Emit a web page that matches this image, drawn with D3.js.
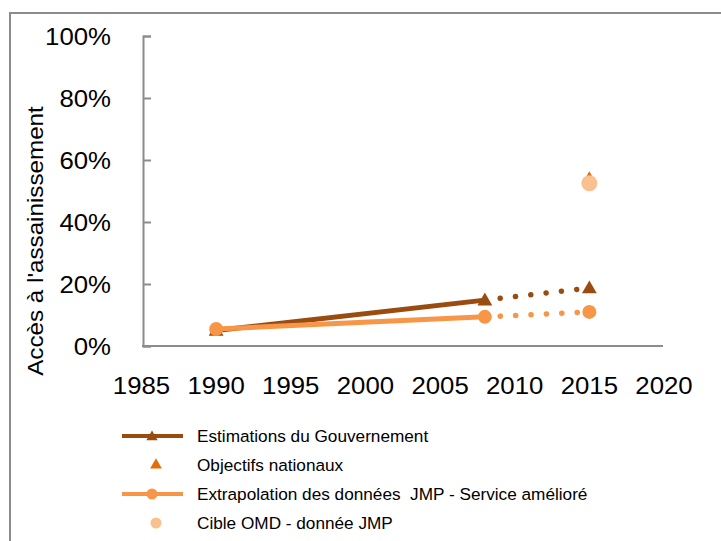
<!DOCTYPE html>
<html><head><meta charset="utf-8">
<script src="https://cdn.jsdelivr.net/npm/d3@7"></script>
<style>body{margin:0;background:#fff}svg{display:block}text{font-family:"Liberation Sans",Arial,sans-serif;white-space:pre}</style>
</head><body>
<script>
const xTicks = [1985, 1990, 1995, 2000, 2005, 2010, 2015, 2020];
const yTicks = [0, 0.2, 0.4, 0.6, 0.8, 1.0];
const govYears = [1990, 2008];
const govValues = [0.05, 0.148];
const govProjYears = [2008, 2015];
const govProjValues = [0.148, 0.187];
const objYears = [2015];
const objValues = [0.54];
const jmpYears = [1990, 2008];
const jmpValues = [0.055, 0.094];
const jmpProjYears = [2008, 2015];
const jmpProjValues = [0.094, 0.11];
const omdYears = [2015];
const omdValues = [0.525];
const legendLabels = ["Estimations du Gouvernement", "Objectifs nationaux", "Extrapolation des données  JMP - Service amélioré", "Cible OMD - donnée JMP"];
const colors = {gov:"#9a4b0f", obj:"#e36c0a", jmp:"#f79646", omd:"#fac090"};

const W = 721, H = 541;
const svg = d3.select("body").append("svg").attr("width", W).attr("height", H);
svg.append("path").attr("d", `M10,${H+5} L10,13 L${W+5},13`).attr("fill","none").attr("stroke","#8c8c8c").attr("stroke-width",2);

const x = d3.scaleLinear().domain([1985, 2020]).range([141.5, 664]);
const y = d3.scaleLinear().domain([0, 1]).range([346, 36]);

function stretch(sel, k) {
  sel.each(function(){ const w = this.getComputedTextLength(); d3.select(this).attr("textLength", w*k).attr("lengthAdjust","spacingAndGlyphs"); });
}

const gy = svg.append("g").attr("transform","translate(143,0)")
  .call(d3.axisRight(y).tickValues(yTicks).tickSize(8).tickFormat(""));
gy.select(".domain").attr("stroke","#8c8c8c").attr("stroke-width",2);
gy.selectAll(".tick line").attr("stroke","#8c8c8c").attr("stroke-width",2);
const gx = svg.append("g").attr("transform","translate(0,346)")
  .call(d3.axisBottom(x).tickValues(xTicks).tickSize(0).tickFormat(""));
gx.select(".domain").attr("stroke","#8c8c8c").attr("stroke-width",2).attr("d", `M142,0H663`);

const yl = svg.append("g").selectAll("text").data(yTicks).join("text")
  .attr("x",111).attr("y",d=>y(d)+8.5).attr("text-anchor","end")
  .attr("font-size",23).text(d=>d3.format(".0%")(d));
stretch(yl, 1.12);
const xl = svg.append("g").selectAll("text").data(xTicks).join("text")
  .attr("x",d=>x(d)).attr("y",393.5).attr("text-anchor","middle")
  .attr("font-size",23).text(d=>d);
stretch(xl, 1.12);
const yt = svg.append("text").attr("transform","translate(43,241) rotate(-90)").attr("text-anchor","middle")
  .attr("font-size",22).text("Accès à l'assainissement");
stretch(yt, 1.1);

const line = d3.line().x(d=>x(d[0])).y(d=>y(d[1]));
const tri = d3.symbol().type(d3.symbolTriangle).size(95);
const triSmall = d3.symbol().type(d3.symbolTriangle).size(70);

svg.append("path").datum(d3.zip(govYears, govValues)).attr("d", line)
  .attr("fill","none").attr("stroke",colors.gov).attr("stroke-width",5);
svg.append("path").datum(d3.zip(govProjYears, govProjValues)).attr("d", line)
  .attr("fill","none").attr("stroke",colors.gov).attr("stroke-width",5.5)
  .attr("stroke-linecap","round").attr("stroke-dasharray","0.1 15.3");
svg.append("path").datum(d3.zip(jmpYears, jmpValues)).attr("d", line)
  .attr("fill","none").attr("stroke",colors.jmp).attr("stroke-width",5);
svg.append("path").datum(d3.zip(jmpProjYears, jmpProjValues)).attr("d", line)
  .attr("fill","none").attr("stroke",colors.jmp).attr("stroke-width",5.5)
  .attr("stroke-linecap","round").attr("stroke-dasharray","0.1 15.3");

const govPts = d3.zip(govYears, govValues).concat([[govProjYears[1], govProjValues[1]]]);
svg.append("g").selectAll("path").data(govPts).join("path")
  .attr("d", tri).attr("transform", d=>`translate(${x(d[0])},${y(d[1])+1})`).attr("fill", colors.gov);
svg.append("g").selectAll("path").data(d3.zip(objYears, objValues)).join("path")
  .attr("d", triSmall).attr("transform", d=>`translate(${x(d[0])},${y(d[1])})`).attr("fill", colors.obj);
const jmpPts = d3.zip(jmpYears, jmpValues).concat([[jmpProjYears[1], jmpProjValues[1]]]);
svg.append("g").selectAll("circle").data(jmpPts).join("circle")
  .attr("cx", d=>x(d[0])).attr("cy", d=>y(d[1])).attr("r",7).attr("fill", colors.jmp);
svg.append("g").selectAll("circle").data(d3.zip(omdYears, omdValues)).join("circle")
  .attr("cx", d=>x(d[0])).attr("cy", d=>y(d[1])).attr("r",8).attr("fill", colors.omd);

const lg = svg.append("g");
const rowsY = [436, 465, 494, 523];
legendLabels.forEach((lab, i) => {
  const yy = rowsY[i];
  if (i === 0) {
    lg.append("line").attr("x1",122).attr("x2",183).attr("y1",yy).attr("y2",yy).attr("stroke",colors.gov).attr("stroke-width",4);
    lg.append("path").attr("d", d3.symbol().type(d3.symbolTriangle).size(55)).attr("transform",`translate(152,${yy+1})`).attr("fill",colors.gov);
  } else if (i === 1) {
    lg.append("path").attr("d", d3.symbol().type(d3.symbolTriangle).size(60)).attr("transform",`translate(156,${yy})`).attr("fill",colors.obj);
  } else if (i === 2) {
    lg.append("line").attr("x1",122).attr("x2",183).attr("y1",yy).attr("y2",yy).attr("stroke",colors.jmp).attr("stroke-width",4);
    lg.append("circle").attr("cx",152).attr("cy",yy).attr("r",5.5).attr("fill",colors.jmp);
  } else {
    lg.append("circle").attr("cx",156).attr("cy",yy).attr("r",5.5).attr("fill",colors.omd);
  }
  lg.append("text").attr("x",197).attr("y",yy).attr("dy","0.36em").attr("font-size",17.2).attr("fill","#000").text(lab);
});
</script>
</body></html>
